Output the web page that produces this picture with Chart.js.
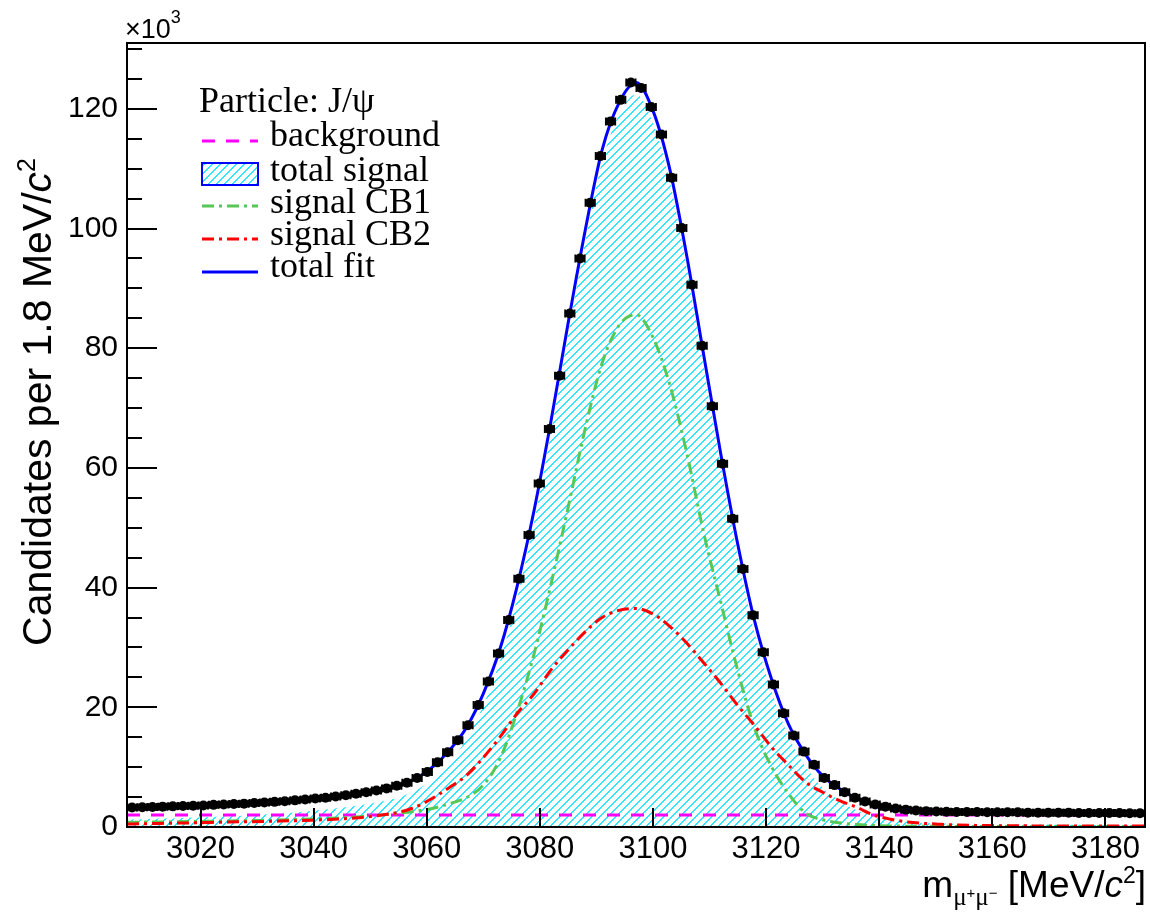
<!DOCTYPE html>
<html>
<head>
<meta charset="utf-8">
<script src="https://cdn.jsdelivr.net/npm/chart.js@4.4.1/dist/chart.umd.min.js"></script>
<style>
  html, body { margin: 0; padding: 0; background: #fff; }
  canvas { display: block; }
</style>
</head>
<body>
<canvas id="mass-fit" width="1150" height="912"></canvas>
<script>
// J/psi -> mu+ mu- invariant mass, 1.8 MeV bins (counts in thousands)
const binWidth = 1.8;
const massMin = 3007;
const massMax = 3187;

const binCenters = [
  3007.9, 3009.7, 3011.5, 3013.3, 3015.1, 3016.9, 3018.7, 3020.5, 3022.3, 3024.1,
  3025.9, 3027.7, 3029.5, 3031.3, 3033.1, 3034.9, 3036.7, 3038.5, 3040.3, 3042.1,
  3043.9, 3045.7, 3047.5, 3049.3, 3051.1, 3052.9, 3054.7, 3056.5, 3058.3, 3060.1,
  3061.9, 3063.7, 3065.5, 3067.3, 3069.1, 3070.9, 3072.7, 3074.5, 3076.3, 3078.1,
  3079.9, 3081.7, 3083.5, 3085.3, 3087.1, 3088.9, 3090.7, 3092.5, 3094.3, 3096.1,
  3097.9, 3099.7, 3101.5, 3103.3, 3105.1, 3106.9, 3108.7, 3110.5, 3112.3, 3114.1,
  3115.9, 3117.7, 3119.5, 3121.3, 3123.1, 3124.9, 3126.7, 3128.5, 3130.3, 3132.1,
  3133.9, 3135.7, 3137.5, 3139.3, 3141.1, 3142.9, 3144.7, 3146.5, 3148.3, 3150.1,
  3151.9, 3153.7, 3155.5, 3157.3, 3159.1, 3160.9, 3162.7, 3164.5, 3166.3, 3168.1,
  3169.9, 3171.7, 3173.5, 3175.3, 3177.1, 3178.9, 3180.7, 3182.5, 3184.3, 3186.1
];

const candidates = [
  3.25, 3.3, 3.35, 3.4, 3.45, 3.5, 3.55, 3.6, 3.7, 3.75,
  3.85, 3.9, 4.0, 4.1, 4.2, 4.3, 4.45, 4.6, 4.75, 4.9,
  5.1, 5.3, 5.55, 5.8, 6.1, 6.45, 6.9, 7.4, 8.2, 9.2,
  10.8, 12.5, 14.5, 17.0, 20.4, 24.3, 29.0, 34.6, 41.5, 48.8,
  57.4, 66.5, 75.4, 85.8, 95.0, 104.3, 112.1, 117.9, 121.5, 124.4,
  123.5, 120.3, 115.7, 108.5, 100.1, 90.6, 80.4, 70.3, 60.7, 51.5,
  43.1, 35.4, 29.2, 23.8, 19.0, 15.3, 12.6, 10.4, 8.2, 7.0,
  5.8, 4.9, 4.25, 3.75, 3.4, 3.1, 2.9, 2.75, 2.65, 2.6,
  2.55, 2.5, 2.5, 2.5, 2.45, 2.45, 2.45, 2.45, 2.4, 2.4,
  2.4, 2.4, 2.4, 2.35, 2.35, 2.35, 2.35, 2.35, 2.3, 2.3
];

// fit curves, sampled every 3 MeV
const curveMass = [
  3007, 3010, 3013, 3016, 3019, 3022, 3025, 3028, 3031, 3034,
  3037, 3040, 3043, 3046, 3049, 3052, 3055, 3058, 3061, 3064,
  3067, 3070, 3073, 3076, 3079, 3082, 3085, 3088, 3091, 3094,
  3097, 3100, 3103, 3106, 3109, 3112, 3115, 3118, 3121, 3124,
  3127, 3130, 3133, 3136, 3139, 3142, 3145, 3148, 3151, 3154,
  3157, 3160, 3163, 3166, 3169, 3172, 3175, 3178, 3181, 3184, 3187
];

const totalFit = [
  3.25, 3.3, 3.4, 3.48, 3.57, 3.68, 3.8, 3.93, 4.08, 4.25,
  4.47, 4.72, 5.0, 5.33, 5.75, 6.27, 6.95, 8.05, 10.0, 12.8,
  16.6, 22.3, 29.9, 40.3, 53.0, 68.0, 84.2, 99.6, 113.1, 121.0,
  124.4, 119.7, 109.8, 95.3, 78.7, 62.3, 47.2, 34.3, 24.6, 17.1,
  12.1, 8.55, 6.4, 4.8, 3.8, 3.22, 2.88, 2.68, 2.58, 2.52,
  2.48, 2.46, 2.44, 2.42, 2.4, 2.39, 2.37, 2.35, 2.34, 2.32, 2.3
];

const signalCB1 = [
  0.8, 0.82, 0.85, 0.88, 0.92, 0.96, 1.0, 1.05, 1.1, 1.17,
  1.25, 1.35, 1.46, 1.6, 1.78, 2.0, 2.3, 2.65, 3.1, 3.9,
  4.9, 7.0, 11.5, 19.3, 29.0, 40.7, 53.4, 66.5, 77.5, 83.8,
  85.6, 81.8, 73.8, 62.4, 49.0, 37.5, 26.1, 16.4, 10.0, 5.5,
  2.3, 1.2, 0.7, 0.4, 0.25, 0.18, 0.14, 0.12, 0.11, 0.1,
  0.1, 0.1, 0.1, 0.1, 0.1, 0.1, 0.1, 0.1, 0.1, 0.1, 0.1
];

const signalCB2 = [
  0.5, 0.55, 0.6, 0.65, 0.7, 0.77, 0.83, 0.88, 0.93, 0.99,
  1.06, 1.15, 1.25, 1.42, 1.65, 2.0, 2.45, 3.35, 4.8, 6.6,
  8.6, 11.6, 15.1, 19.0, 22.3, 26.3, 29.6, 32.6, 35.0, 36.2,
  36.5, 35.6, 33.5, 30.7, 27.4, 24.0, 20.3, 16.9, 13.3, 10.3,
  7.5, 5.8, 4.4, 3.3, 2.0, 1.3, 0.85, 0.6, 0.45, 0.33,
  0.27, 0.23, 0.2, 0.19, 0.18, 0.17, 0.16, 0.16, 0.15, 0.15, 0.15
];

// flat combinatorial background
const backgroundLevel = 2.0;

const massTicks = [3020, 3040, 3060, 3080, 3100, 3120, 3140, 3160, 3180];
const countTicks = [0, 20, 40, 60, 80, 100, 120];
const countMax = 131;

const SANS = '"Liberation Sans", Arial, sans-serif';
const SERIF = '"Liberation Serif", "Times New Roman", serif';

const canvas = document.getElementById("mass-fit");
const ctx = canvas.getContext("2d");

// crisp "/" hatching, one 2 px stripe per 8 px tile
function makeHatch(color) {
  const tile = document.createElement("canvas");
  tile.width = 8;
  tile.height = 8;
  const g = tile.getContext("2d");
  g.fillStyle = color;
  for (let i = 0; i < 8; i++) {
    g.fillRect(i, 7 - i, 1, 1);
    g.fillRect((i + 1) % 8, 7 - i, 1, 1);
  }
  return ctx.createPattern(tile, "repeat");
}
const hatch = makeHatch("#2ee6ff");

const xy = (xs, ys) => xs.map((x, i) => ({ x, y: ys[i] }));

const curve = (label, values, color, width, dash, order) => ({
  label,
  data: xy(curveMass, values),
  showLine: true,
  borderColor: color,
  borderWidth: width,
  borderDash: dash,
  pointRadius: 0,
  fill: false,
  tension: 0.4,
  cubicInterpolationMode: "monotone",
  order
});

// horizontal bin-width bars with end caps on the data points
const errorBars = {
  id: "errorBars",
  afterDatasetsDraw(chart) {
    const { x, y } = chart.scales;
    const c = chart.ctx;
    c.save();
    c.strokeStyle = "#000";
    c.lineWidth = 2;
    binCenters.forEach((m, i) => {
      const py = y.getPixelForValue(candidates[i]);
      const x0 = x.getPixelForValue(m - binWidth / 2);
      const x1 = x.getPixelForValue(m + binWidth / 2);
      c.beginPath();
      c.moveTo(x0, py); c.lineTo(x1, py);
      c.moveTo(x0 + 0.5, py - 4); c.lineTo(x0 + 0.5, py + 4);
      c.moveTo(x1 - 0.5, py - 4); c.lineTo(x1 - 0.5, py + 4);
      c.stroke();
    });
    c.restore();
  }
};

function drawPieces(c, pieces, startX, baseY) {
  let u = startX;
  pieces.forEach(([text, font, dy]) => {
    c.font = font;
    c.fillText(text, u, baseY + dy);
    u += c.measureText(text).width;
  });
}

function piecesWidth(c, pieces) {
  return pieces.reduce((w, [text, font]) => {
    c.font = font;
    return w + c.measureText(text).width;
  }, 0);
}

// frame, inward ticks, axis titles and the legend
const decorations = {
  id: "decorations",
  afterDraw(chart) {
    const c = chart.ctx;
    const { left, right, top, bottom } = chart.chartArea;
    const { x, y } = chart.scales;
    c.save();
    c.strokeStyle = "#000";
    c.fillStyle = "#000";
    c.lineWidth = 2;
    c.strokeRect(left, top, right - left, bottom - top);

    c.beginPath();
    for (let v = 0; v <= countMax; v += 5) {
      const py = Math.round(y.getPixelForValue(v));
      const len = countTicks.includes(v) ? 30 : 15;
      c.moveTo(left, py); c.lineTo(left + len, py);
    }
    massTicks.forEach((m) => {
      const px = Math.round(x.getPixelForValue(m));
      c.moveTo(px, bottom); c.lineTo(px, bottom - 19);
    });
    c.stroke();

    // exponent of the count axis
    c.textBaseline = "alphabetic";
    c.textAlign = "left";
    drawPieces(c, [["\u00d710", "27px " + SANS, 0], ["3", "18px " + SANS, -15]], 125, 38);

    // x title
    const xPieces = [
      ["m", "37px " + SANS, 0],
      ["\u03bc", "25px " + SERIF, 8],
      ["+", "15px " + SANS, 1],
      ["\u03bc", "25px " + SERIF, 8],
      ["\u2212", "15px " + SANS, 1],
      [" [MeV/", "37px " + SANS, 0],
      ["c", "italic 37px " + SANS, 0],
      ["2", "23px " + SANS, -14],
      ["]", "37px " + SANS, 0]
    ];
    drawPieces(c, xPieces, 1146 - piecesWidth(c, xPieces), 897);

    // y title, rotated, ending near the top of the axis
    const yPieces = [
      ["Candidates per 1.8 MeV/", "41px " + SANS, 0],
      ["c", "italic 41px " + SANS, 0],
      ["2", "25px " + SANS, -16]
    ];
    const yw = piecesWidth(c, yPieces);
    c.save();
    c.translate(51, 158 + yw);
    c.rotate(-Math.PI / 2);
    drawPieces(c, yPieces, 0, 0);
    c.restore();

    // legend
    c.font = "36px " + SERIF;
    c.fillText("Particle: J/\u03c8", 199, 112);
    const rows = [
      ["background", 146], ["total signal", 181], ["signal CB1", 213],
      ["signal CB2", 245], ["total fit", 277]
    ];
    rows.forEach(([t, b]) => c.fillText(t, 270, b));

    const sample = (py, color, width, dash) => {
      c.save();
      c.strokeStyle = color;
      c.lineWidth = width;
      c.setLineDash(dash);
      c.beginPath();
      c.moveTo(202, py); c.lineTo(258, py);
      c.stroke();
      c.restore();
    };
    sample(141, "#ff00ff", 3, [13, 11]);
    c.fillStyle = hatch;
    c.fillRect(202, 163, 56, 22);
    c.strokeStyle = "#0000ff";
    c.lineWidth = 2;
    c.strokeRect(202, 163, 56, 22);
    sample(206, "#55c855", 3, [12, 5, 3, 5]);
    sample(239, "#ff0000", 3, [12, 5, 3, 5]);
    sample(272, "#0000ff", 3, []);
    c.restore();
  }
};

new Chart(ctx, {
  type: "scatter",
  data: {
    datasets: [
      {
        label: "data",
        data: xy(binCenters, candidates),
        pointRadius: 5,
        pointBackgroundColor: "#000",
        pointBorderWidth: 0,
        order: 0
      },
      curve("total fit", totalFit, "#0000ff", 3, [], 1),
      curve("signal CB2", signalCB2, "#ff0000", 3, [12, 5, 3, 5], 2),
      curve("signal CB1", signalCB1, "#55c855", 3, [12, 5, 3, 5], 3),
      {
        label: "background",
        data: [{ x: massMin, y: backgroundLevel }, { x: massMax, y: backgroundLevel }],
        showLine: true,
        borderColor: "#ff00ff",
        borderWidth: 3,
        borderDash: [13, 11],
        pointRadius: 0,
        order: 4
      },
      {
        label: "total signal",
        data: xy(curveMass, totalFit.map((v) => v - backgroundLevel)),
        showLine: true,
        borderColor: "rgba(0,0,0,0)",
        borderWidth: 1,
        backgroundColor: hatch,
        pointRadius: 0,
        fill: "origin",
        tension: 0.4,
        cubicInterpolationMode: "monotone",
        order: 5
      }
    ]
  },
  options: {
    responsive: false,
    animation: false,
    layout: { padding: { top: 43, right: 2, left: 0, bottom: 0 } },
    plugins: { legend: { display: false }, tooltip: { enabled: false } },
    scales: {
      x: {
        type: "linear",
        min: massMin,
        max: massMax,
        afterBuildTicks: (axis) => { axis.ticks = massTicks.map((v) => ({ value: v })); },
        afterFit: (axis) => { axis.height = 85; },
        grid: { display: false, drawTicks: false },
        border: { display: false },
        ticks: {
          color: "#000",
          font: { family: SANS, size: 31 },
          padding: 4,
          maxRotation: 0,
          autoSkip: false,
          callback: (v) => String(v)
        }
      },
      y: {
        min: 0,
        max: countMax,
        afterBuildTicks: (axis) => { axis.ticks = countTicks.map((v) => ({ value: v })); },
        afterFit: (axis) => { axis.width = 127; },
        grid: { display: false, drawTicks: false },
        border: { display: false },
        ticks: {
          color: "#000",
          font: { family: SANS, size: 30 },
          padding: 9,
          autoSkip: false,
          callback: (v) => String(v)
        }
      }
    }
  },
  plugins: [errorBars, decorations]
});
</script>
</body>
</html>
